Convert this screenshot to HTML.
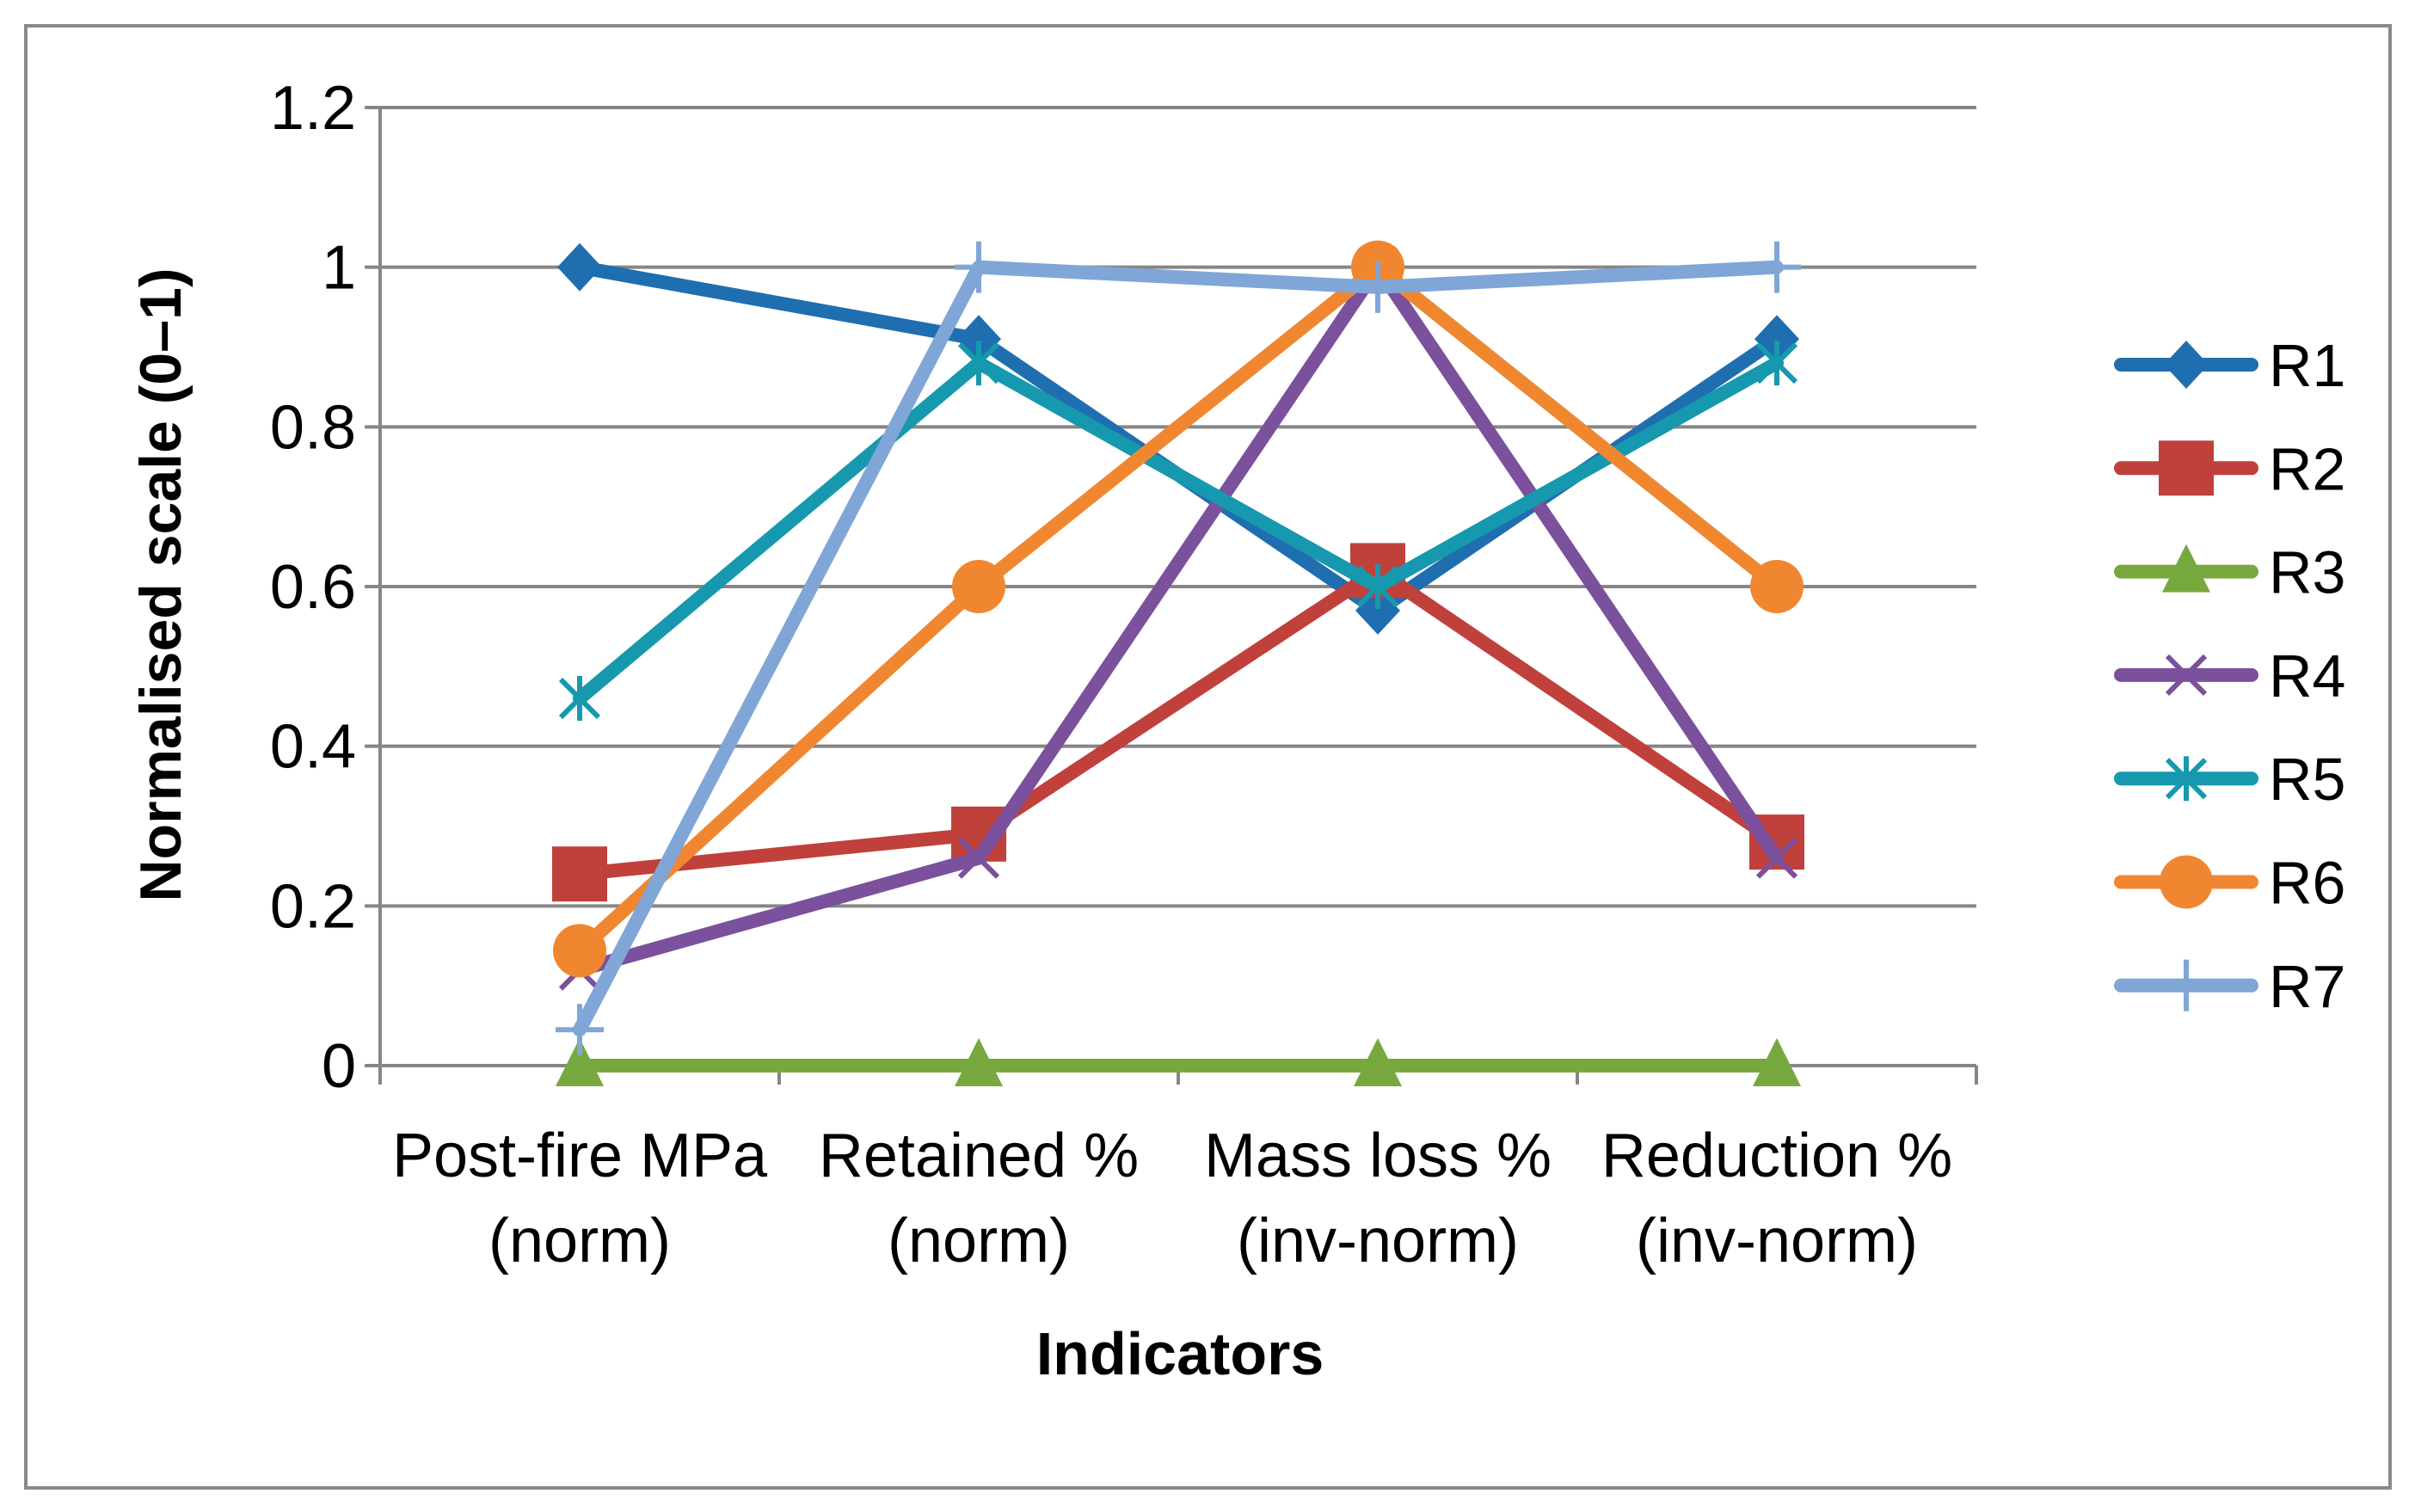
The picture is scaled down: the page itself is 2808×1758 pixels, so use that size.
<!DOCTYPE html>
<html><head><meta charset="utf-8"><style>
html,body{margin:0;padding:0;background:#fff}
svg{display:block}
text{font-family:"Liberation Sans Narrow","Liberation Sans",sans-serif}
</style></head><body>
<svg id="chart" width="2808" height="1758" viewBox="0 0 2808 1758">
<rect x="30" y="30" width="2749" height="1700" fill="#fff" stroke="#8a8a8a" stroke-width="4"/>
<g id="grid"></g><g id="axes"></g><g id="series"></g><g id="legend"></g>
<text x="210" y="680" transform="rotate(-90 210 680)" text-anchor="middle" font-size="68" font-weight="bold" style="font-family:'Liberation Sans',sans-serif">Normalised scale (0–1)</text>
<text x="1372" y="1598" text-anchor="middle" font-size="70" font-weight="bold">Indicators</text>
</svg>
<script>
const categories1 = ["Post-fire MPa","Retained %","Mass loss %","Reduction %"];
const categories2 = ["(norm)","(norm)","(inv-norm)","(inv-norm)"];
const yTicks = [0,0.2,0.4,0.6,0.8,1,1.2];
const yTickLabels = ["0","0.2","0.4","0.6","0.8","1","1.2"];
const seriesNames = ["R1","R2","R3","R4","R5","R6","R7"];
const r1 = [1.0,0.91,0.57,0.91];
const r2 = [0.24,0.29,0.62,0.28];
const r3 = [0,0,0,0];
const r4 = [0.12,0.26,1.0,0.26];
const r5 = [0.46,0.88,0.60,0.88];
const r6 = [0.144,0.60,1.0,0.60];
const r7 = [0.045,1.0,0.975,1.0];

const NS="http://www.w3.org/2000/svg";
const X0=442,X1=2298,Y0=1239,Y1=125;
const yS=v=>Y0-(v/1.2)*(Y0-Y1);
const bw=(X1-X0)/categories1.length;
const xS=i=>X0+bw*(i+0.5);
function mk(tag,attrs,parent){const e=document.createElementNS(NS,tag);for(const k in attrs)e.setAttribute(k,attrs[k]);parent.appendChild(e);return e;}
const grid=document.getElementById('grid'),axes=document.getElementById('axes'),ser=document.getElementById('series'),leg=document.getElementById('legend');
yTicks.forEach((t,i)=>{
  const l=mk('line',{x1:X0-18,x2:X1,y1:yS(t),y2:yS(t),stroke:'#868686','stroke-width':4},grid);
  
  
  const tx=mk('text',{x:X0-28,y:yS(t)+25,'text-anchor':'end','font-size':72,fill:'#000'},axes);
  tx.textContent=yTickLabels[i];
  
  
});
const ya=mk('line',{x1:X0,x2:X0,y1:Y1,y2:Y0+20,stroke:'#868686','stroke-width':4},axes);


for(let i=0;i<=categories1.length;i++){
  const tk=mk('line',{x1:X0+bw*i,x2:X0+bw*i,y1:Y0,y2:Y0+22,stroke:'#868686','stroke-width':4},axes);
  
  
}
categories1.forEach((c,i)=>{
  const t1=mk('text',{x:xS(i),y:1368,'text-anchor':'middle','font-size':72},axes);
  t1.textContent=c;
  
  
  const t2=mk('text',{x:xS(i),y:1467,'text-anchor':'middle','font-size':72},axes);
  t2.textContent=categories2[i];
  
  
});
const colors=["#1f6eb0","#c0403b","#77a83e","#7b509c","#1699ae","#f08730","#7fa6d6"];
const markers=["diamond","square","triangle","x","star","circle","plus"];
const data=[r1,r2,r3,r4,r5,r6,r7];
function marker(type,x,y,c,parent){
  let e;
  if(type==='diamond')e=mk('polygon',{points:`${x},${y-28} ${x+26},${y} ${x},${y+28} ${x-26},${y}`,fill:c},parent);
  else if(type==='square')e=mk('rect',{x:x-32,y:y-32,width:64,height:64,fill:c},parent);
  else if(type==='triangle')e=mk('polygon',{points:`${x},${y-32} ${x+28},${y+24} ${x-28},${y+24}`,fill:c},parent);
  else if(type==='circle')e=mk('circle',{cx:x,cy:y,r:31,fill:c},parent);
  else if(type==='x')e=mk('path',{d:`M${x-22},${y-22}L${x+22},${y+22}M${x+22},${y-22}L${x-22},${y+22}`,stroke:c,'stroke-width':6,fill:'none'},parent);
  else if(type==='star')e=mk('path',{d:`M${x-22},${y-22}L${x+22},${y+22}M${x+22},${y-22}L${x-22},${y+22}M${x},${y-26}L${x},${y+26}`,stroke:c,'stroke-width':6,fill:'none'},parent);
  else e=mk('path',{d:`M${x-28},${y}L${x+28},${y}M${x},${y-30}L${x},${y+30}`,stroke:c,'stroke-width':6,fill:'none'},parent);
  return e;
}
data.forEach((vals,s)=>{
  const g=mk('g',{},ser);
  
  
  const pts=vals.map((v,i)=>xS(i)+','+yS(v)).join(' ');
  const pl=mk('polyline',{points:pts,fill:'none',stroke:colors[s],'stroke-width':16,'stroke-linejoin':'round','stroke-linecap':'round'},g);
  
  
  vals.forEach((v,i)=>{
    const m=marker(markers[s],xS(i),yS(v),colors[s],g);
    
    
  });
});
seriesNames.forEach((n,s)=>{
  const y=424+s*120.3;
  const g=mk('g',{},leg);
  
  
  mk('line',{x1:2466,x2:2618,y1:y,y2:y,stroke:colors[s],'stroke-width':16,'stroke-linecap':'round'},g);
  marker(markers[s],2542,y,colors[s],g);
  const t=mk('text',{x:2638,y:y+25,'font-size':70,style:"font-family:'Liberation Sans',sans-serif"},g);
  t.textContent=n;
});
</script>
</body></html>
